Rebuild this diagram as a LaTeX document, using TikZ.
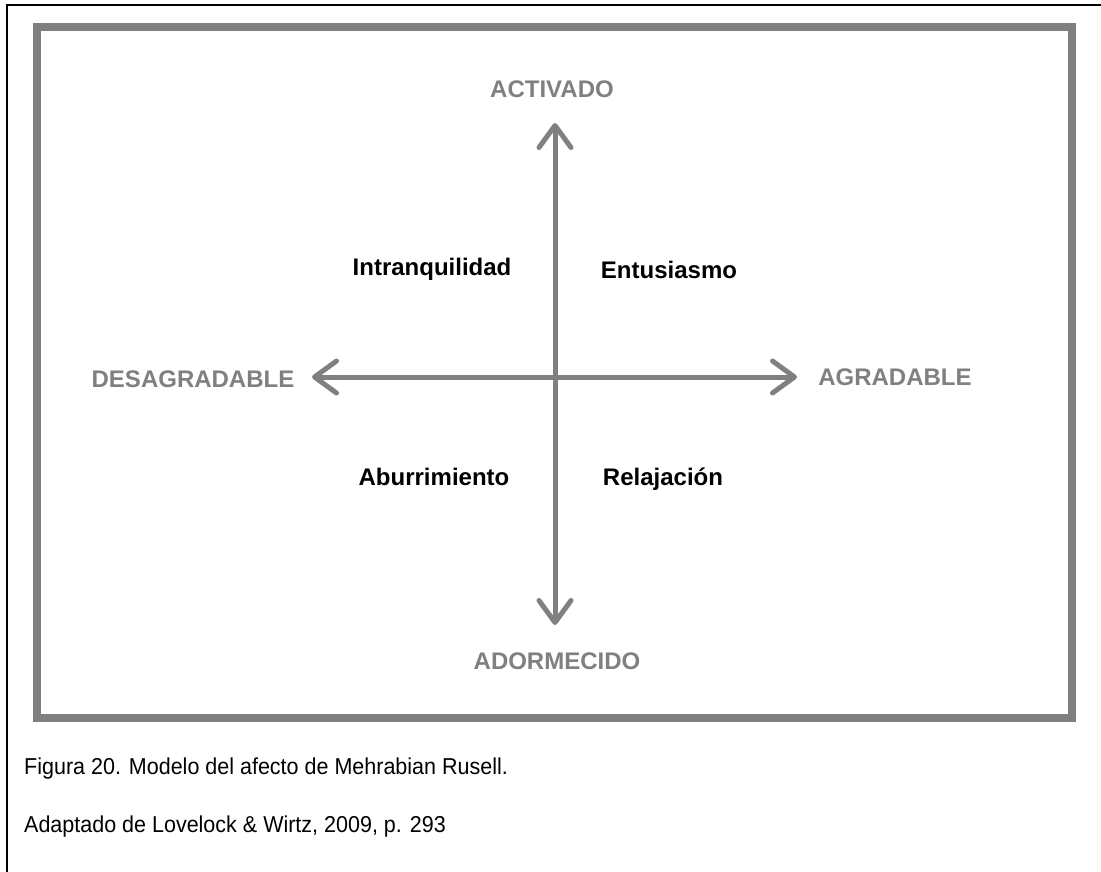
\documentclass[tikz,border=0pt]{standalone}
\usepackage{fontspec}
\setmainfont{Liberation Sans}
\usetikzlibrary{arrows.meta}
\definecolor{axisgray}{HTML}{808080}
\tikzset{
  pole/.style={anchor=base, inner sep=0pt, text=axisgray, font=\fontsize{24}{28}\selectfont\bfseries},
  mood/.style={anchor=base, inner sep=0pt, text=black, font=\fontsize{24}{28}\selectfont\bfseries},
  capline/.style={anchor=base west, inner sep=0pt, xscale=0.935, font=\fontsize{23}{27}\selectfont},
  axis/.style={draw=axisgray, line width=5pt,
    {Straight Barb[length=22pt, width=32pt, round]}-{Straight Barb[length=22pt, width=32pt, round]}}
}
\begin{document}
\begin{tikzpicture}[x=1pt, y=-1pt]
\useasboundingbox (0,0) rectangle (1101,872);
% page rule on the left and top
\draw[line width=2pt] (6.5,872) -- (6.5,5.5) -- (1101,5.5);
% grey frame round the model
\draw[axisgray, line width=8pt] (37,27) rectangle (1072,718);

% axis end points
\coordinate (top) at (555,123);
\coordinate (bottom) at (555,625);
\coordinate (left) at (312,377);
\coordinate (right) at (797,377);

\draw[axis] (left) -- (right);
\draw[axis] (bottom) -- (top);

% poles
\node[pole] (act) at (552,98) {ACTIVADO};
\node[pole] (ado) at (557,669) {ADORMECIDO};
\node[pole] (des) at (193,387) {DESAGRADABLE};
\node[pole] (agr) at (895,385) {AGRADABLE};

% quadrants
\node[mood] (intr) at (432,275) {Intranquilidad};
\node[mood] (entu) at (669,278) {Entusiasmo};
\node[mood] (abur) at (434,485) {Aburrimiento};
\node[mood] (rela) at (663,485) {Relajación};

% caption
\node[capline] (cap1) at (24,774) {Figura 20. Modelo del afecto de Mehrabian Rusell.};
\node[capline] (cap2) at (24,832) {Adaptado de Lovelock \& Wirtz, 2009, p. 293};
\end{tikzpicture}
\end{document}
